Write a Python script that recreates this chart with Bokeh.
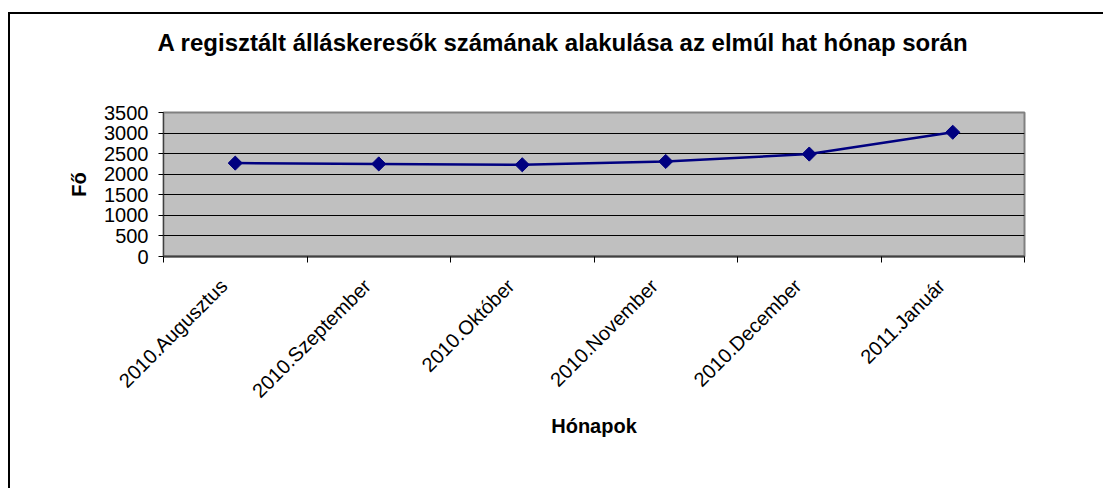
import math
from bokeh.plotting import figure
from bokeh.models import Range1d, FixedTicker, Title
from bokeh.embed import file_html
from bokeh.resources import INLINE

months = ["2010.Augusztus", "2010.Szeptember", "2010.Október",
          "2010.November", "2010.December", "2011.Január"]
values = [2270, 2250, 2230, 2310, 2490, 3020]
y_ticks = [0, 500, 1000, 1500, 2000, 2500, 3000, 3500]

title_text = "A regisztált álláskeresők számának alakulása az elmúl hat hónap során"
x_title = "Hónapok"
y_title = "Fő"

FONT = "Liberation Sans"

xs = [i + 0.5 for i in range(len(months))]
label_xs = [x - 0.08 for x in xs]
boundaries = list(range(len(months) + 1))

p = figure(width=1095, height=476,
           x_range=Range1d(0, len(months)), y_range=Range1d(0, 3500),
           output_backend="svg", toolbar_location=None,
           min_border_left=153, min_border_right=81,
           min_border_top=98, min_border_bottom=234,
           background_fill_color="#C0C0C0", border_fill_color="white",
           outline_line_color="#808080", outline_line_width=2)

p.styles = {"border-left": "2px solid black", "border-top": "2px solid black",
            "margin-top": "12px", "margin-left": "8px"}

# Title: spacer panel next to the plot area, main title above it
p.title.text = ""
spacer = Title(text=" ", text_font_size="1px", standoff=52)
main_title = Title(text=title_text, text_font=FONT, text_font_size="24px",
                   text_font_style="bold", text_color="black",
                   align="left", vertical_align="top", offset=-6, standoff=0)
p.add_layout(spacer, "above")
p.add_layout(main_title, "above")

# Grid
p.xgrid.visible = False
p.ygrid.ticker = FixedTicker(ticks=y_ticks)
p.ygrid.grid_line_color = "black"
p.ygrid.grid_line_width = 1

# Y axis
ya = p.yaxis[0]
ya.ticker = FixedTicker(ticks=y_ticks)
ya.axis_label = y_title
ya.axis_label_text_font = FONT
ya.axis_label_text_font_size = "20px"
ya.axis_label_text_font_style = "bold"
ya.axis_label_text_color = "black"
ya.axis_label_standoff = 11
ya.major_label_text_font = FONT
ya.major_label_text_font_size = "20px"
ya.major_label_text_color = "black"
ya.major_label_standoff = 10
ya.major_tick_out = 5
ya.major_tick_in = 0
ya.minor_tick_line_color = None
ya.axis_line_color = "#404040"
ya.major_tick_line_color = "black"

# X axis
xa = p.xaxis[0]
xa.ticker = FixedTicker(ticks=label_xs, minor_ticks=boundaries)
xa.major_label_overrides = {x: m for x, m in zip(label_xs, months)}
xa.major_label_orientation = math.pi / 4
xa.major_label_text_font = FONT
xa.major_label_text_font_size = "20px"
xa.major_label_text_color = "black"
xa.major_label_standoff = 20
xa.major_tick_line_color = None
xa.major_tick_out = 0
xa.major_tick_in = 0
xa.minor_tick_line_color = "black"
xa.minor_tick_out = 6
xa.minor_tick_in = 0
xa.axis_line_color = "#404040"
xa.axis_line_width = 2
xa.axis_label = x_title
xa.axis_label_text_font = FONT
xa.axis_label_text_font_size = "20px"
xa.axis_label_text_font_style = "bold"
xa.axis_label_text_color = "black"
xa.axis_label_standoff = 2

# Series
p.line(xs, values, line_color="#000080", line_width=2.5)
p.scatter(xs, values, marker="square", angle=math.pi / 4, size=10,
          fill_color="#000080", line_color="#000080")

open("out.html", "w").write(file_html(p, INLINE))
